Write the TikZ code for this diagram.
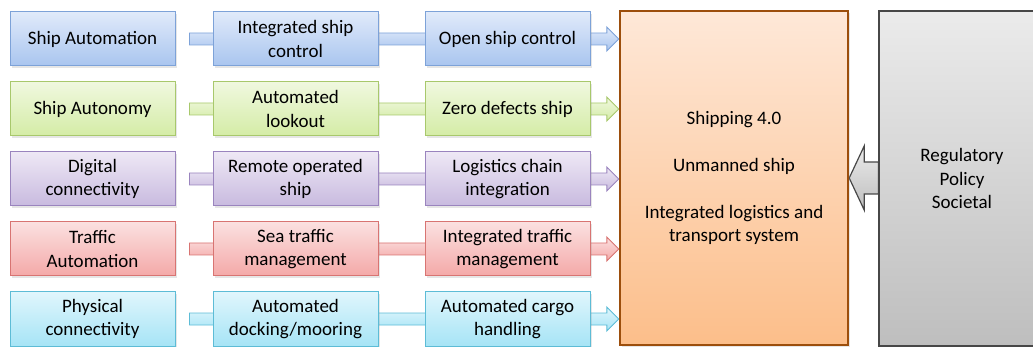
\documentclass[tikz,border=0pt]{standalone}
\usepackage{fontspec}
\setmainfont{Carlito}
\usepackage{tikz}
\usetikzlibrary{
	positioning,
	calc,
	backgrounds,
	shadows
}

\definecolor{blueTop}{HTML}{E0EAFA}
\definecolor{blueBot}{HTML}{A9C5EF}
\definecolor{blueLine}{HTML}{7DA2D8}
\definecolor{greenTop}{HTML}{F0F8DF}
\definecolor{greenBot}{HTML}{D4ECA6}
\definecolor{greenLine}{HTML}{A8C86C}
\definecolor{purpleTop}{HTML}{EEE8F5}
\definecolor{purpleBot}{HTML}{C8BADF}
\definecolor{purpleLine}{HTML}{9A84BE}
\definecolor{redTop}{HTML}{FBE0E0}
\definecolor{redBot}{HTML}{F4A9A8}
\definecolor{redLine}{HTML}{D87472}
\definecolor{cyanTop}{HTML}{E0F6FC}
\definecolor{cyanBot}{HTML}{A6E4F6}
\definecolor{cyanLine}{HTML}{5DBCD6}
\definecolor{orangeTop}{HTML}{FEE8D8}
\definecolor{orangeBot}{HTML}{FCBE8A}
\definecolor{orangeLine}{HTML}{9C4E0C}
\definecolor{greyTop}{HTML}{EBEBEB}
\definecolor{greyBot}{HTML}{BEBEBE}
\definecolor{greyLine}{HTML}{474747}

\tikzset{
	box/.style={draw, line width=1pt, minimum width=165pt, minimum height=54pt,
		inner sep=0pt, align=center,
		drop shadow={shadow xshift=1.5pt, shadow yshift=-2pt, opacity=.2}},
	bluefill/.style={top color=blueTop, bottom color=blueBot, draw=blueLine},
	greenfill/.style={top color=greenTop, bottom color=greenBot, draw=greenLine},
	purplefill/.style={top color=purpleTop, bottom color=purpleBot, draw=purpleLine},
	redfill/.style={top color=redTop, bottom color=redBot, draw=redLine},
	cyanfill/.style={top color=cyanTop, bottom color=cyanBot, draw=cyanLine},
	rowarrow/.style={line width=.9pt}
}

% block arrow: style, from, to, shaft half, head half, head length
\newcommand\blockarrow[6]{%
	\path[#1] let \p1=(#2), \p2=(#3) in
		({\x1},{\y2+#4}) -- ({\x2-(#6)},{\y2+#4}) -- ({\x2-(#6)},{\y2+#5}) -- ({\x2},{\y2})
		-- ({\x2-(#6)},{\y2-#5}) -- ({\x2-(#6)},{\y2-#4}) -- ({\x1},{\y2-#4}) -- cycle;}

\begin{document}
\begin{tikzpicture}[x=1pt, y=-1pt, font=\fontsize{19}{23.5}\selectfont]

		\useasboundingbox (0,0) rectangle (1033,347);
		\clip (0,0) rectangle (1033,347);

		% right hand side
		\node[draw=orangeLine, line width=2.4pt, top color=orangeTop, bottom color=orangeBot,
			minimum width=228pt, minimum height=334pt, inner sep=0pt, align=center,
			drop shadow={shadow xshift=1.5pt, shadow yshift=-2pt, opacity=.2}]
			(ship) at (734,178) {Shipping 4.0\\[23.5pt]Unmanned ship\\[23.5pt]Integrated logistics and\\transport system};

		\node[draw=greyLine, line width=1.2pt, top color=greyTop, bottom color=greyBot,
			minimum width=166pt, minimum height=335pt, inner sep=0pt, align=center]
			(reg) at (962,178.5) {Regulatory\\Policy\\Societal};

		% rows
		\node[box, bluefill] (sa) at (92.5,39) {Ship Automation};
		\node[box, bluefill, right=37pt of sa] (isc) {Integrated ship\\control};
		\node[box, bluefill, right=46pt of isc] (osc) {Open ship control};

		\node[box, greenfill] (sy) at (92.5,109) {Ship Autonomy};
		\node[box, greenfill, right=37pt of sy] (al) {Automated\\lookout};
		\node[box, greenfill, right=46pt of al] (zds) {Zero defects ship};

		\node[box, purplefill] (dc) at (92.5,179) {Digital\\connectivity};
		\node[box, purplefill, right=37pt of dc] (ros) {Remote operated\\ship};
		\node[box, purplefill, right=46pt of ros] (lci) {Logistics chain\\integration};

		\node[box, redfill] (ta) at (92.5,249) {Traffic\\Automation};
		\node[box, redfill, right=37pt of ta] (stm) {Sea traffic\\management};
		\node[box, redfill, right=46pt of stm] (itm) {Integrated traffic\\management};

		\node[box, cyanfill] (pc) at (92.5,319) {Physical\\connectivity};
		\node[box, cyanfill, right=37pt of pc] (adm) {Automated\\docking/mooring};
		\node[box, cyanfill, right=46pt of adm] (ach) {Automated cargo\\handling};

		\coordinate[right=14pt of sa.east] (s1);
		\coordinate[right=14pt of sy.east] (s2);
		\coordinate[right=14pt of dc.east] (s3);
		\coordinate[right=14pt of ta.east] (s4);
		\coordinate[right=14pt of pc.east] (s5);

		\begin{scope}[on background layer]
			\foreach \s/\c in {s1/blue, s2/green, s3/purple, s4/red, s5/cyan}
				\blockarrow{rowarrow, \c fill}{\s}{ship.west |- \s}{6pt}{12pt}{12pt};

			\blockarrow{line width=1.2pt, draw=greyLine, top color=greyTop, bottom color=greyBot}
				{reg.west}{ship.east}{16pt}{32pt}{-15pt};
		\end{scope}

	\end{tikzpicture}
\end{document}
